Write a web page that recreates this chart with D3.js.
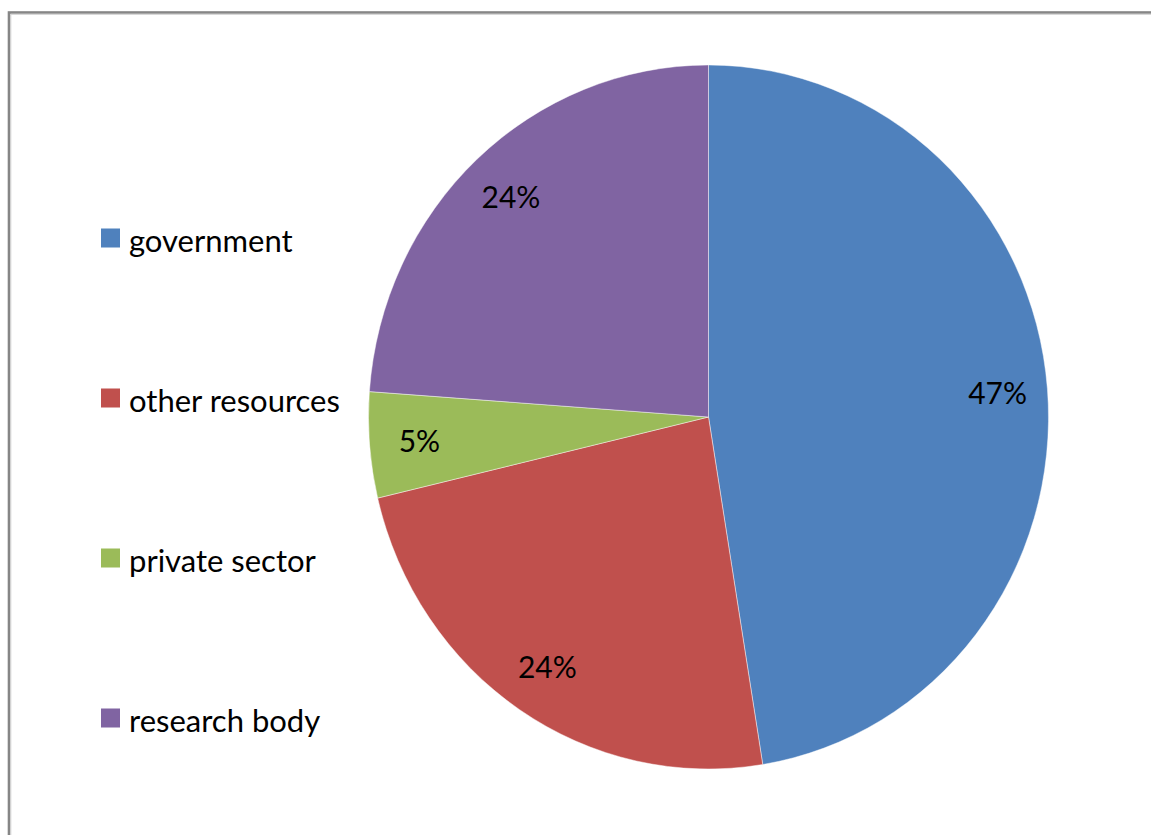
<!DOCTYPE html>
<html>
<head>
<meta charset="utf-8">
<script src="https://cdn.jsdelivr.net/npm/d3@7/dist/d3.min.js"></script>
<style>
  html, body { margin: 0; padding: 0; background: #fff; }
  svg { display: block; }
  text { font-family: Lato, "Open Sans", sans-serif; fill: #000; }
</style>
</head>
<body>
<svg id="chart" width="1151" height="835"></svg>
<script>
// Funding sources (share of total, %)
const categories = ["government", "other resources", "private sector", "research body"];
const shares = [47.45, 23.85, 4.85, 23.85];
const colors = ["#4F81BD", "#C0504D", "#9BBB59", "#8064A2"];

const W = 1151, H = 835;
const svg = d3.select("#chart");

// chart-area frame (open to the right and bottom)
svg.append("rect")
  .attr("x", 9).attr("y", 12.5)
  .attr("width", W + 20).attr("height", H + 20)
  .attr("fill", "none")
  .attr("stroke", "#868686")
  .attr("stroke-width", 2.6);
svg.append("path")
  .attr("d", `M10.8,${H + 10} V14.3 H${W + 10}`)
  .attr("fill", "none")
  .attr("stroke", "#cfcfcf")
  .attr("stroke-width", 1);

// pie
const cx = 708.5, cy = 417, R = 340, yStretch = 352 / 340;
const total = d3.sum(shares);
const data = categories.map((c, i) => ({ name: c, value: shares[i], color: colors[i] }));

const pie = d3.pie().value(d => d.value).sort(null);
const arcs = pie(data);
const arc = d3.arc().innerRadius(0).outerRadius(R);
const labelArc = d3.arc().innerRadius(290).outerRadius(290);

const g = svg.append("g")
  .attr("transform", `translate(${cx},${cy}) scale(1,${yStretch})`);

g.selectAll("path.slice")
  .data(arcs)
  .join("path")
  .attr("class", "slice")
  .attr("d", arc)
  .attr("fill", d => d.data.color)
  .attr("stroke", "rgba(255,255,255,0.55)")
  .attr("stroke-width", 0.8);

// percentage labels
const pct = d3.format(".0%");
svg.append("g")
  .selectAll("text")
  .data(arcs)
  .join("text")
  .attr("x", d => cx + labelArc.centroid(d)[0])
  .attr("y", d => cy + labelArc.centroid(d)[1] * yStretch + 11)
  .attr("text-anchor", "middle")
  .attr("font-size", 30)
  .text(d => pct(d.data.value / total));

// legend
const ly = d3.scalePoint().domain(categories).range([238, 718]);
const legend = svg.append("g")
  .selectAll("g")
  .data(data)
  .join("g")
  .attr("transform", d => `translate(101,${ly(d.name)})`);

legend.append("rect")
  .attr("x", 0).attr("y", -9.5)
  .attr("width", 19).attr("height", 19)
  .attr("fill", d => d.color);

legend.append("text")
  .attr("x", 28).attr("y", 14)
  .attr("font-size", 31)
  .text(d => d.name);
</script>
</body>
</html>
